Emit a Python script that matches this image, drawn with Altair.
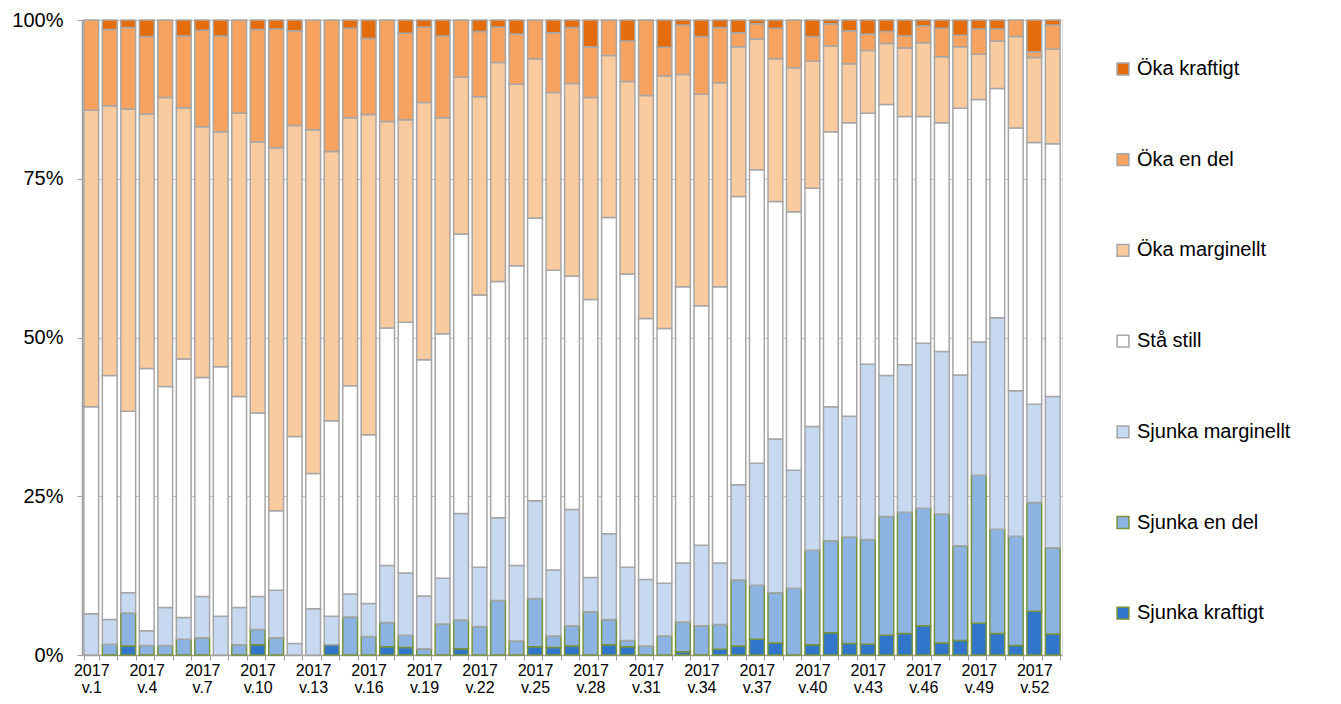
import json
import altair as alt
import pandas as pd

weeks = [f"2017 v.{i}" for i in range(1, 53)] + ["2018 v.1"]
tick_labels = [f"2017 v.{i}" for i in range(1, 53, 3)]

# segment shares (%) per week, bottom to top
sjunka_kraftigt = [0, 0, 1.4, 0, 0, 0, 0, 0, 0, 1.6, 0, 0, 0, 1.6, 0, 0, 1.3, 1.2, 0, 0,
                   1.0, 0, 0, 0, 1.3, 1.2, 1.4, 0, 1.6, 1.3, 0, 0, 0.5, 0, 0.9, 1.4, 2.5, 1.9, 0, 1.6,
                   3.5, 1.8, 1.7, 3.1, 3.4, 4.6, 1.9, 2.3, 5.0, 3.4, 1.5, 6.9, 3.3]
sjunka_en_del = [0, 1.7, 5.2, 1.5, 1.5, 2.5, 2.7, 0, 1.6, 2.4, 2.7, 0, 0, 0, 6.0, 2.9, 3.8, 1.9, 1.0, 4.9,
                 4.5, 4.5, 8.6, 2.2, 7.6, 1.8, 3.2, 6.8, 4.0, 1.0, 1.4, 3.0, 4.7, 4.6, 3.9, 10.4, 8.5, 7.9, 10.5, 14.9,
                 14.5, 16.8, 16.5, 18.7, 19.1, 18.5, 20.3, 14.9, 23.3, 16.4, 17.2, 17.1, 13.6]
sjunka_marginellt = [6.5, 3.9, 3.2, 2.3, 6.0, 3.4, 6.5, 6.1, 5.9, 5.2, 7.5, 1.8, 7.3, 4.5, 3.6, 5.2, 9.0, 9.8, 8.3, 7.2,
                     16.8, 9.3, 13.0, 11.9, 15.4, 10.4, 18.3, 5.4, 13.5, 11.5, 10.5, 8.3, 9.3, 12.7, 9.7, 15.0, 19.2, 24.2, 18.6, 19.5,
                     21.1, 19.0, 27.6, 22.2, 23.2, 26.0, 25.6, 26.9, 21.0, 33.3, 22.9, 15.5, 23.8]
sta_still = [32.6, 38.4, 28.6, 41.3, 34.8, 40.7, 34.5, 39.3, 33.2, 28.9, 12.5, 32.6, 21.3, 30.8, 32.8, 26.6, 37.4, 39.5, 37.2, 38.5,
             44.0, 42.9, 37.2, 47.2, 44.5, 47.2, 36.8, 43.8, 49.8, 46.2, 41.1, 40.1, 43.5, 37.7, 43.5, 45.4, 46.2, 37.4, 40.7, 37.5,
             43.3, 46.2, 39.5, 42.7, 39.1, 35.7, 36.0, 42.0, 38.2, 36.1, 41.4, 41.2, 39.8]
oka_marginellt = [46.7, 42.5, 47.6, 40.1, 45.5, 39.6, 39.5, 37.0, 44.6, 42.7, 57.2, 49.0, 54.1, 42.4, 42.2, 50.4, 32.5, 31.9, 40.5, 34.0,
                  24.7, 31.2, 34.5, 28.6, 25.1, 28.0, 30.3, 31.8, 25.5, 30.3, 35.1, 39.8, 33.4, 33.3, 32.1, 23.6, 20.6, 22.5, 22.7, 20.0,
                  13.5, 9.3, 9.9, 9.6, 10.8, 11.6, 10.4, 9.7, 7.1, 7.5, 14.4, 13.4, 14.9]
oka_en_del = [14.2, 12.0, 12.8, 12.2, 12.2, 11.3, 15.2, 15.1, 14.7, 17.7, 18.7, 14.9, 17.3, 20.7, 14.1, 12.0, 16.0, 13.6, 11.9, 12.9,
              9.0, 10.3, 5.6, 7.9, 6.1, 9.4, 8.8, 8.0, 5.6, 6.4, 11.9, 4.5, 7.8, 9.1, 8.7, 2.2, 2.4, 4.8, 7.5, 3.9,
              3.5, 5.2, 2.6, 1.9, 1.9, 2.7, 4.5, 1.8, 4.0, 1.9, 2.6, 0.9, 3.8]
oka_kraftigt = [0, 1.5, 1.2, 2.6, 0, 2.5, 1.6, 2.5, 0, 1.5, 1.4, 1.7, 0, 0, 1.3, 2.9, 0, 2.1, 1.1, 2.5,
                0, 1.8, 1.1, 2.2, 0, 2.0, 1.2, 4.2, 0, 3.3, 0, 4.3, 0.8, 2.6, 1.2, 2.0, 0.6, 1.3, 0, 2.6,
                0.6, 1.7, 2.2, 1.8, 2.5, 0.9, 1.3, 2.4, 1.4, 1.4, 0, 5.0, 0.8]

categories = ["Sjunka kraftigt", "Sjunka en del", "Sjunka marginellt", "Stå still",
              "Öka marginellt", "Öka en del", "Öka kraftigt"]
series = [sjunka_kraftigt, sjunka_en_del, sjunka_marginellt, sta_still,
          oka_marginellt, oka_en_del, oka_kraftigt]
fills = ["#3176CB", "#8DB3E2", "#C6D9F1", "#FFFFFF", "#FACB9F", "#F7A35F", "#E46C0A"]
strokes = ["#77933C", "#77933C", "#A6A6A6", "#A6A6A6", "#A6A6A6", "#A6A6A6", "#A6A6A6"]

rows = []
for k, (cat, vals) in enumerate(zip(categories, series)):
    for w, v in zip(weeks, vals):
        if v > 0:
            rows.append({"week": w, "cat": cat, "value": v, "ord": k})
df = pd.DataFrame(rows)

legend_order = categories[::-1]
fill_range = fills[::-1]
stroke_range = strokes[::-1]

label_expr = (f"indexof({json.dumps(tick_labels)}, datum.value) >= 0 ? "
              "split(datum.value, ' ') : ''")

FONT = "Liberation Sans, Arial, sans-serif"

leg = dict(
    title=None, orient="none", legendX=1031, legendY=39,
    symbolType="square", symbolSize=140, symbolStrokeWidth=1.5,
    labelFont=FONT, labelFontSize=20, labelColor="#000000",
    labelOffset=4, rowPadding=70.7, labelLimit=300,
)

chart = alt.Chart(df).mark_bar(strokeWidth=1.5).encode(
    x=alt.X("week:N", sort=weeks,
            scale=alt.Scale(paddingInner=0.2, paddingOuter=0.1),
            axis=alt.Axis(title=None, labelAngle=0, labelExpr=label_expr,
                          tickBand="extent", tickSize=5, tickColor="#A0A0A0",
                          domainColor="#A0A0A0", domainWidth=1.5,
                          labelFont=FONT, labelFontSize=16, labelColor="#000000",
                          labelPadding=2, labelLineHeight=17, labelOverlap=False,
                          labelBound=False)),
    y=alt.Y("value:Q", stack="normalize",
            scale=alt.Scale(domain=[0, 1]),
            axis=alt.Axis(title=None, values=[0, 0.25, 0.5, 0.75, 1], format=".0%",
                          grid=True, gridColor="#C0C0C0", gridWidth=1,
                          tickSize=5, tickColor="#A0A0A0", domainColor="#A0A0A0",
                          domainWidth=1.5, labelFont=FONT, labelFontSize=20,
                          labelColor="#000000", labelPadding=14)),
    color=alt.Color("cat:N", scale=alt.Scale(domain=legend_order, range=fill_range),
                    legend=alt.Legend(**leg)),
    stroke=alt.Stroke("cat:N", scale=alt.Scale(domain=legend_order, range=stroke_range),
                      legend=alt.Legend(**leg)),
    order=alt.Order("ord:Q", sort="ascending"),
).properties(
    width=980, height=635,
    autosize=alt.AutoSizeParams(type="none"),
    padding={"left": 74, "top": 12, "right": 262, "bottom": 41},
).configure_view(
    stroke="#A6A6A6", strokeWidth=1.5
).configure(background="#FFFFFF")

chart.save("out.html", embed_options={"renderer": "svg", "actions": False})
